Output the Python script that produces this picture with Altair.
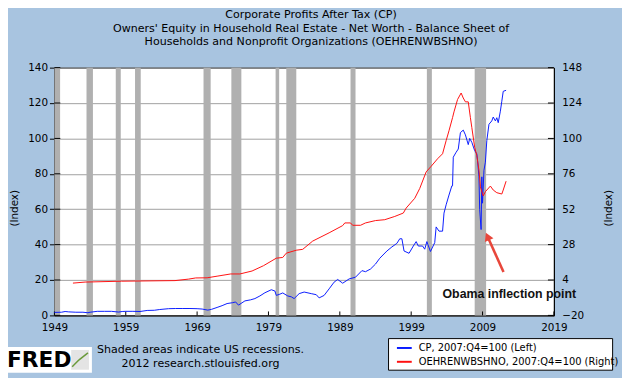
import altair as alt
import pandas as pd

# ---------------- data ----------------
TITLE_LINES = [
    "Corporate Profits After Tax (CP)",
    "Owners' Equity in Household Real Estate - Net Worth - Balance Sheet of",
    "Households and Nonprofit Organizations (OEHRENWBSHNO)",
]
NOTE_LINES = ["Shaded areas indicate US recessions.", "2012 research.stlouisfed.org"]
LEGEND_LABELS = ["CP, 2007:Q4=100 (Left)", "OEHRENWBSHNO, 2007:Q4=100 (Right)"]
ANNOTATION = "Obama inflection point"

cp_year = [1949.0, 1950.0, 1950.5, 1951.0, 1952.0, 1953.0, 1953.7, 1954.0, 1955.0, 1956.0,
           1957.0, 1958.0, 1958.5, 1959.0, 1960.0, 1961.0, 1962.0, 1963.0, 1963.7, 1965.0,
           1966.0, 1967.0, 1968.0, 1969.0, 1969.7, 1970.5, 1971.0, 1971.8, 1972.5, 1973.2,
           1974.0, 1974.4, 1974.8, 1975.7, 1976.5, 1977.1, 1977.8, 1978.5, 1979.4, 1979.9,
           1980.1, 1980.6, 1981.0, 1981.7, 1982.2, 1982.6, 1983.3, 1984.0, 1985.0, 1985.7,
           1986.1, 1986.8, 1987.5, 1988.2, 1988.7, 1989.4, 1990.3, 1991.2, 1992.1, 1992.6,
           1993.3, 1994.0, 1994.6, 1995.6, 1996.3, 1997.0, 1997.4, 1997.7, 1998.0, 1998.7,
           1999.3, 1999.7, 2000.0, 2000.6, 2000.9, 2001.2, 2001.7, 2002.3, 2002.5, 2002.9,
           2003.4, 2003.6, 2003.9, 2004.3, 2004.7, 2004.8, 2004.9, 2005.3, 2005.6, 2005.9,
           2006.3, 2006.6, 2007.0, 2007.2, 2007.5, 2007.9, 2008.2, 2008.3, 2008.5, 2008.6,
           2008.8, 2008.9, 2009.0, 2009.2, 2009.4, 2009.6, 2009.9, 2010.3, 2010.5, 2010.8,
           2011.0, 2011.2, 2011.5, 2011.7, 2011.9, 2012.3]
cp_value = [1.7, 1.8, 2.2, 2.0, 1.8, 1.8, 1.5, 1.8, 2.3, 2.3,
            2.3, 1.9, 2.2, 2.3, 2.3, 2.2, 2.8, 2.9, 3.3, 3.8,
            3.9, 3.9, 3.9, 3.8, 3.6, 3.0, 3.4, 4.5, 5.5, 6.7,
            7.2, 7.6, 5.8, 8.2, 8.8, 9.5, 11.0, 12.8, 14.5, 13.8,
            11.3, 12.0, 12.7, 11.0, 10.5, 9.5, 12.3, 13.2, 12.3, 11.7,
            9.9, 11.3, 15.0, 18.8, 20.3, 18.2, 20.6, 21.6, 25.3, 24.7,
            26.2, 29.0, 32.3, 36.4, 38.7, 40.7, 43.3, 43.3, 36.4, 35.1,
            39.2, 41.7, 39.2, 39.2, 37.4, 41.7, 36.1, 41.1, 50.0, 47.6,
            47.6, 57.8, 62.5, 68.0, 73.2, 73.2, 89.4, 92.2, 94.0, 103.3,
            104.7, 102.0, 96.5, 100.0, 97.8, 93.1, 91.3, 87.6, 78.3, 59.7,
            48.5, 78.3, 63.4, 82.0, 86.6, 98.7, 108.0, 109.9, 112.1, 109.9,
            111.7, 108.9, 115.4, 121.0, 126.6, 127.2]

oe_year = [1951.6, 1953.3, 1958.4, 1965.9, 1967.8, 1968.8, 1970.4, 1971.8, 1973.7, 1975.0,
           1976.7, 1978.3, 1980.1, 1981.0, 1981.5, 1982.9, 1983.8, 1985.2, 1987.5, 1989.4,
           1989.7, 1990.5, 1990.8, 1991.9, 1992.6, 1994.0, 1995.3, 1996.7, 1997.9, 1998.3,
           1999.5, 2000.2, 2001.1, 2001.8, 2002.7, 2003.4, 2003.9, 2004.3, 2004.8, 2005.0,
           2005.5, 2006.0, 2006.3, 2006.6, 2007.0, 2007.3, 2007.5, 2007.9, 2008.2, 2008.5,
           2008.7, 2009.1, 2009.4, 2010.1, 2010.5, 2011.0, 2011.7, 2011.9, 2012.3]
oe_value = [1.9, 2.6, 3.2, 3.6, 4.6, 5.4, 5.5, 6.6, 8.1, 8.1,
            10.1, 13.7, 18.8, 19.3, 22.2, 24.2, 24.8, 30.4, 36.0, 40.9,
            42.7, 42.7, 41.1, 41.1, 42.7, 44.3, 44.9, 47.1, 49.4, 52.8,
            59.4, 66.1, 77.3, 81.1, 86.2, 89.6, 98.5, 105.2, 114.1, 118.0,
            126.4, 130.8, 127.4, 124.8, 124.8, 114.1, 107.4, 94.0, 88.4, 78.4,
            67.2, 61.0, 63.9, 67.7, 65.0, 63.2, 62.3, 65.0, 71.0]

rec_start = [1949.0, 1953.5, 1957.6, 1960.3, 1969.9, 1973.8, 1980.0, 1981.5, 1990.5, 2001.2, 2007.9]
rec_end = [1949.8, 1954.4, 1958.3, 1961.1, 1970.9, 1975.2, 1980.5, 1982.9, 1991.2, 2001.9, 2009.5]

x_ticks = [1949, 1959, 1969, 1979, 1989, 1999, 2009, 2019]
left_ticks = [0, 20, 40, 60, 80, 100, 120, 140]
right_ticks = [-20, 4, 28, 52, 76, 100, 124, 148]

# arrow (tail -> head), in data units of the left scale
arrow_year = [2011.94]
arrow_val = [24.5]
arrow_year2 = [2009.70]
arrow_val2 = [44.6]
label_year = [2012.75]
label_val = [12.3]

# ---------------- styling ----------------
W, H = 506, 251
X0, Y0 = 55, 66          # page position of the plot area
FONT = "DejaVu Sans"
BG = "#a8c4e0"
BLUE = "#0a1cff"
RED = "#ff1010"
GRID = "#a0a0a0"
BAND = "#b0b0b0"


def px(X):
    return X - X0


def py(Y):
    return Y - Y0


x_scale = alt.Scale(domain=[1949, 2019], nice=False, zero=False)
yl_scale = alt.Scale(domain=[0, 140], nice=False, zero=False)
yr_scale = alt.Scale(domain=[-20, 148], nice=False, zero=False)

x_axis = alt.Axis(values=x_ticks, format="d", grid=False, ticks=False, labelPadding=7,
                  domainColor="black", labelFont=FONT, labelFontSize=10.5, labelColor="black",
                  labelOverlap=False, labelFlush=False, title=None)
left_axis = alt.Axis(values=left_ticks, orient="left", grid=True, gridColor=GRID, gridWidth=1,
                     domainColor="black", tickColor="black", tickSize=5, labelPadding=2,
                     labelFont=FONT, labelFontSize=10.5, labelColor="black", labelOverlap=False,
                     title="(Index)", titleFont=FONT, titleFontSize=10.5, titleFontWeight="normal",
                     titleColor="black", titleAngle=270, titleX=-40, titleY=142,
                     titleAlign="center", titleBaseline="middle")
right_axis = alt.Axis(values=right_ticks, orient="right", grid=False, ticks=False, labelPadding=8,
                      domainColor="black", labelFont=FONT, labelFontSize=10.5, labelColor="black",
                      labelOverlap=False,
                      title="(Index)", titleFont=FONT, titleFontSize=10.5, titleFontWeight="normal",
                      titleColor="black", titleAngle=270, titleX=55, titleY=142,
                      titleAlign="center", titleBaseline="middle")

cp_df = pd.DataFrame({"year": cp_year, "value": cp_value})
oe_df = pd.DataFrame({"year": oe_year, "value": oe_value})
rec_df = pd.DataFrame({"start": rec_start, "end": rec_end})
xt_df = pd.DataFrame({"year": x_ticks})
lt_df = pd.DataFrame({"v": left_ticks})
rt_df = pd.DataFrame({"v": right_ticks})
arrow_df = pd.DataFrame({"x": arrow_year, "y": arrow_val, "x2": arrow_year2, "y2": arrow_val2})
label_df = pd.DataFrame({"x": label_year, "y": label_val, "t": [ANNOTATION]})

bands = alt.Chart(rec_df).mark_rect(color=BAND, opacity=1).encode(
    x=alt.X("start:Q", scale=x_scale, axis=x_axis),
    x2="end:Q",
)

blue = alt.Chart(cp_df).mark_line(color=BLUE, strokeWidth=1).encode(
    x=alt.X("year:Q", scale=x_scale, axis=x_axis),
    y=alt.Y("value:Q", scale=yl_scale, axis=left_axis),
)

left_inner = alt.Chart(lt_df).mark_rule(color="black", strokeWidth=1).encode(
    y=alt.Y("v:Q", scale=yl_scale, axis=left_axis),
    x=alt.value(0), x2=alt.value(6),
)
bottom_inner = alt.Chart(xt_df).mark_rule(color="black", strokeWidth=1).encode(
    x=alt.X("year:Q", scale=x_scale, axis=x_axis),
    y=alt.value(H - 4), y2=alt.value(H),
)

arrow_shaft = alt.Chart(arrow_df).mark_rule(color="#e8473b", strokeWidth=2.6).encode(
    x=alt.X("x:Q", scale=x_scale, axis=x_axis), x2="x2:Q",
    y=alt.Y("y:Q", scale=yl_scale, axis=left_axis), y2="y2:Q",
)
arrow_head = alt.Chart(arrow_df).mark_point(shape="triangle-up", filled=True, color="#e8473b",
                                            size=90, angle=336, opacity=1).encode(
    x=alt.X("x2:Q", scale=x_scale, axis=x_axis),
    y=alt.Y("y2:Q", scale=yl_scale, axis=left_axis),
)
ann_text = alt.Chart(label_df).mark_text(font="Liberation Sans", fontSize=12.5, fontWeight="bold",
                                         color="#111111", align="center", baseline="middle").encode(
    x=alt.X("x:Q", scale=x_scale, axis=x_axis),
    y=alt.Y("y:Q", scale=yl_scale, axis=left_axis),
    text="t:N",
)

left_group = alt.layer(bands, left_inner, bottom_inner, blue, arrow_shaft, arrow_head, ann_text)

red = alt.Chart(oe_df).mark_line(color=RED, strokeWidth=1).encode(
    x=alt.X("year:Q", scale=x_scale, axis=x_axis),
    y=alt.Y("value:Q", scale=yr_scale, axis=right_axis),
)
right_inner = alt.Chart(rt_df).mark_rule(color="black", strokeWidth=1).encode(
    y=alt.Y("v:Q", scale=yr_scale, axis=right_axis),
    x=alt.value(W - 6), x2=alt.value(W),
)
right_group = alt.layer(right_inner, red)


# ---------------- decorations (titles, notes, legend, logo) ----------------
def text_mark(label, X, Y, size=10.5, align="center", weight="normal", font=FONT, color="black"):
    return alt.Chart(pd.DataFrame({"t": [label]})).mark_text(
        font=font, fontSize=size, fontWeight=weight, color=color, align=align, baseline="middle"
    ).encode(x=alt.value(px(X)), y=alt.value(py(Y)), text="t:N")


def rect_mark(X1, Y1, X2, Y2, fill, stroke=None):
    kw = {"fill": fill}
    if stroke:
        kw.update(stroke=stroke, strokeWidth=1)
    return alt.Chart(pd.DataFrame({"k": [0]})).mark_rect(**kw).encode(
        x=alt.value(px(X1)), x2=alt.value(px(X2)), y=alt.value(py(Y1)), y2=alt.value(py(Y2)))


def rule_mark(X1, Y1, X2, Y2, color, width=2):
    return alt.Chart(pd.DataFrame({"k": [0]})).mark_rule(color=color, strokeWidth=width).encode(
        x=alt.value(px(X1)), x2=alt.value(px(X2)), y=alt.value(py(Y1)), y2=alt.value(py(Y2)))


decor = [
    text_mark(TITLE_LINES[0], 315, 13, size=11.2),
    text_mark(TITLE_LINES[1], 315, 26.5, size=11.2),
    text_mark(TITLE_LINES[2], 315, 40, size=11.2),
    text_mark(NOTE_LINES[0], 203, 352, size=11.2),
    text_mark(NOTE_LINES[1], 203, 366, size=11.2),
    rect_mark(393.5, 340.5, 620.5, 372.5, "white", "black"),
    rule_mark(402, 350, 417, 350, BLUE, 2),
    rule_mark(402, 364, 417, 364, RED, 2),
    text_mark(LEGEND_LABELS[0], 424, 350, size=10, align="left"),
    text_mark(LEGEND_LABELS[1], 424, 364, size=10, align="left"),
    rect_mark(5, 349, 93, 375, "white"),
    text_mark("FRED", 7, 362.5, size=22, align="left", weight="bold", font="DejaVu Sans"),
    rect_mark(72, 352, 90, 372, "#e4e4e4"),
    rule_mark(73, 369, 80, 362, "#6a9a3a", 1.5),
    rule_mark(80, 362, 89, 355, "#6a9a3a", 1.5),
]

chart = alt.layer(left_group, right_group, *decor).resolve_scale(y="independent").properties(
    width=W, height=H,
    autosize=alt.AutoSizeParams(type="none"),
    padding={"left": 47, "top": 58, "right": 69, "bottom": 61},
    background=BG,
).configure_view(stroke="black", strokeWidth=1, fill="white")

chart.save("out.html", embed_options={"renderer": "svg", "actions": False})
